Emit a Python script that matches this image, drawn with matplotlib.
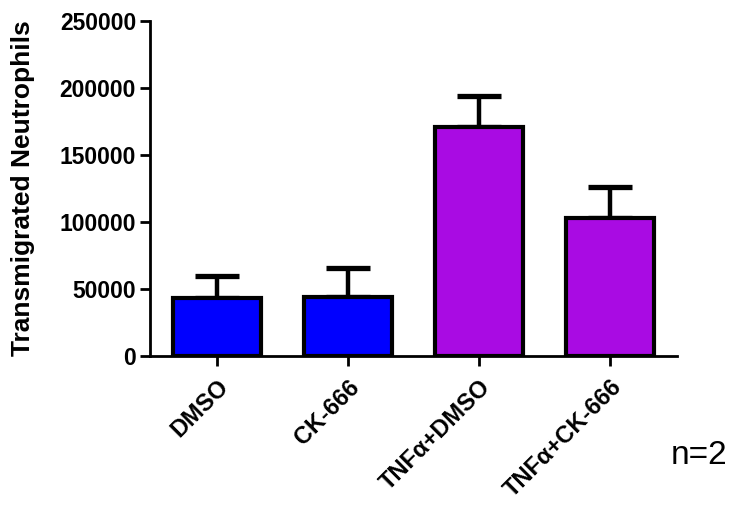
import matplotlib.pyplot as plt
import numpy as np

# Data dari grafik
groups = ["DMSO", "CK-666", "TNF\u03b1+DMSO", "TNF\u03b1+CK-666"]
means = [43000, 44000, 171000, 102500]
errors = [17000, 21500, 22500, 23500]
colors = ["#0000FF", "#0000FF", "#A90BE3", "#A90BE3"]

plt.rcParams["font.family"] = ["Liberation Sans", "DejaVu Sans"]

fig = plt.figure(figsize=(7.35, 5.13), dpi=100)
ax = fig.add_axes([0.204, 0.306, 0.717, 0.654])

x = np.arange(len(groups))
ax.bar(x, means, width=0.67, color=colors, edgecolor="black", linewidth=3, zorder=3)
ax.errorbar(x, means, yerr=[np.zeros(len(errors)), errors], fmt="none",
            ecolor="black", elinewidth=3.2, capsize=16, capthick=3.8, zorder=2)

ax.set_xlim(-0.51, 3.51)
ax.set_ylim(0, 250000)
ax.set_yticks(np.arange(0, 250001, 50000))
ax.set_xticks(x)
ax.set_xticklabels(groups, rotation=45, ha="right", rotation_mode="anchor",
                   fontsize=17, fontweight="bold")
ax.tick_params(axis="y", labelsize=16.5, width=2, length=7, pad=3)
ax.tick_params(axis="x", width=2, length=7, pad=7)
for lbl in ax.get_yticklabels():
    lbl.set_fontweight("bold")

for s in ["top", "right"]:
    ax.spines[s].set_visible(False)
for s in ["left", "bottom"]:
    ax.spines[s].set_linewidth(2)

ax.set_ylabel("Transmigrated Neutrophils", fontsize=19, fontweight="bold")
ax.yaxis.set_label_coords(-0.218, 0.5)

fig.text(0.951, 0.113, "n=2", fontsize=24, ha="center", va="center")

fig.savefig("out.png", dpi=100)
